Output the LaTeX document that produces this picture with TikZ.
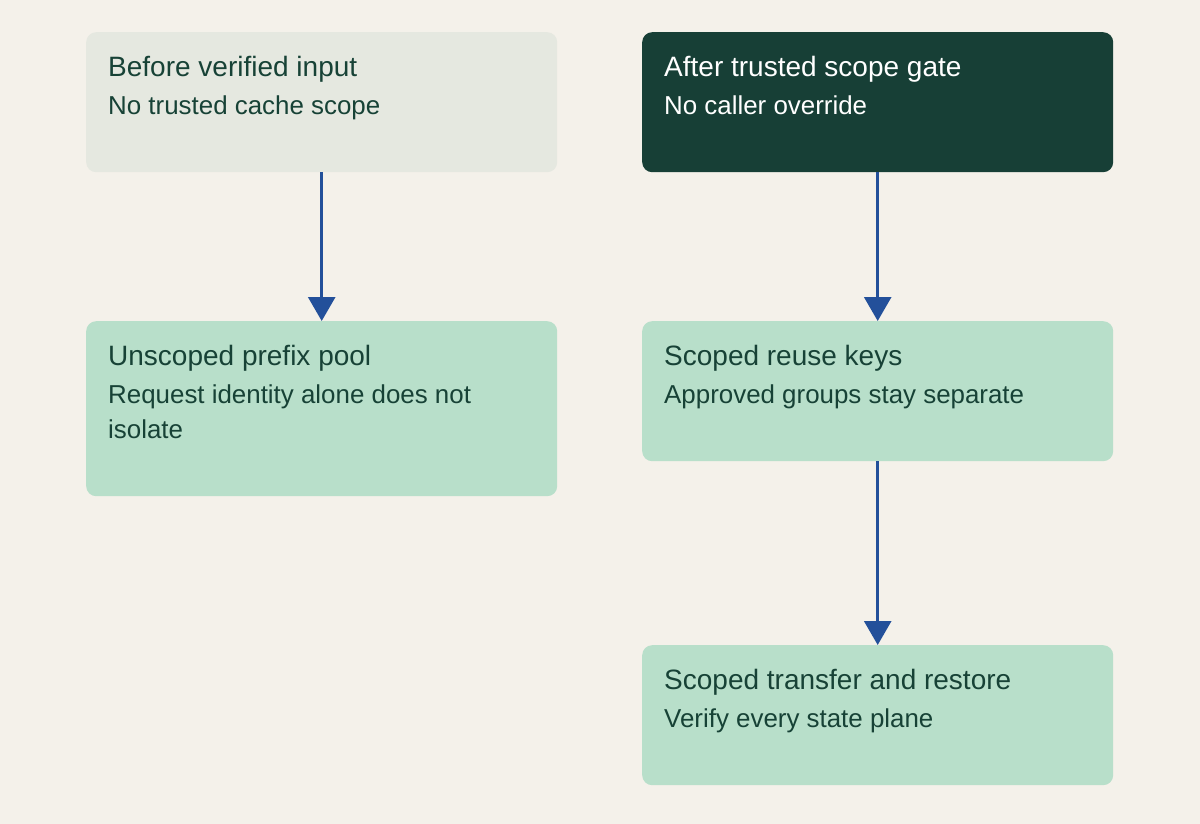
\documentclass[tikz,border=0pt]{standalone}
\usepackage{fontspec}
\setmainfont{Liberation Sans}
\usetikzlibrary{arrows.meta}
\definecolor{bgc}{HTML}{F4F1EA}
\definecolor{paleg}{HTML}{E5E8E0}
\definecolor{darkg}{HTML}{173F36}
\definecolor{mint}{HTML}{B8DFCA}
\definecolor{txt}{HTML}{174236}
\definecolor{arrowblue}{HTML}{23509A}
\tikzset{
  box/.style={anchor=north west, rounded corners=10pt, inner sep=0pt, draw=none},
  ttl/.style={anchor=base west, inner sep=0pt, text=txt, font=\fontsize{28pt}{33pt}\selectfont},
  sub/.style={anchor=base west, inner sep=0pt, text=txt, font=\fontsize{25.9pt}{31pt}\selectfont},
  arr/.style={draw=arrowblue, line width=2.7pt, -{Triangle[width=27pt,length=24pt]}}
}
\begin{document}
\begin{tikzpicture}[x=1pt,y=-1pt]
\useasboundingbox[fill=bgc] (0,0) rectangle (1200,824);
% boxes
\node[box, fill=paleg, minimum width=471pt, minimum height=140pt] (b1) at (86,32) {};
\node[box, fill=darkg, minimum width=471pt, minimum height=140pt] (b2) at (642,32) {};
\node[box, fill=mint, minimum width=471pt, minimum height=175pt] (b3) at (86,321) {};
\node[box, fill=mint, minimum width=471pt, minimum height=140pt] (b4) at (642,321) {};
\node[box, fill=mint, minimum width=471pt, minimum height=140pt] (b5) at (642,645) {};
% texts
\node[ttl] (t1) at (108,76.5) {Before verified input};
\node[sub] (s1) at (108,114.3) {No trusted cache scope};
\node[ttl, text=white] (t2) at (664,76.5) {After trusted scope gate};
\node[sub, text=white] (s2) at (664,114.3) {No caller override};
\node[ttl] (t3) at (108,365.5) {Unscoped prefix pool};
\node[sub] (s3a) at (108,403.3) {Request identity alone does not};
\node[sub] (s3b) at (108,438.3) {isolate};
\node[ttl] (t4) at (664,365.5) {Scoped reuse keys};
\node[sub] (s4) at (664,403.3) {Approved groups stay separate};
\node[ttl] (t5) at (664,689.5) {Scoped transfer and restore};
\node[sub] (s5) at (664,727.3) {Verify every state plane};
% arrows
\draw[arr] (b1.south) -- (b3.north);
\draw[arr] (b2.south) -- (b4.north);
\draw[arr] (b4.south) -- (b5.north);
\end{tikzpicture}
\end{document}
